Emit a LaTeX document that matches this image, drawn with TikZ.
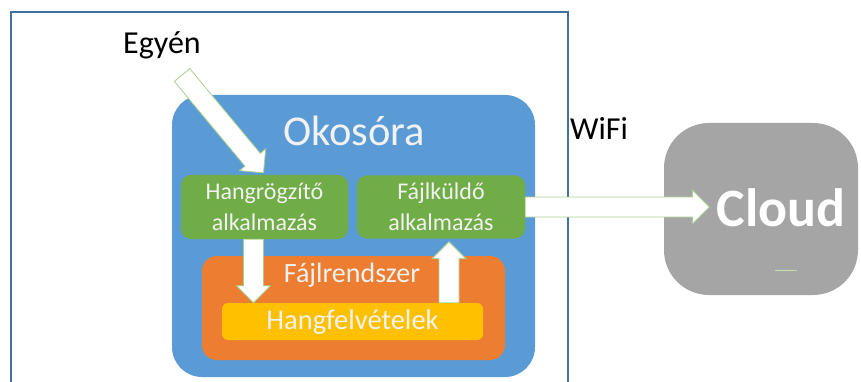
\documentclass[tikz,border=0pt]{standalone}
\usepackage{fontspec}
\setmainfont{Carlito}
\usetikzlibrary{calc}
\definecolor{frameblue}{HTML}{41719C}
\definecolor{okblue}{HTML}{5B9BD5}
\definecolor{okgreen}{HTML}{70AD47}
\definecolor{okorange}{HTML}{ED7D31}
\definecolor{okyellow}{HTML}{FFC000}
\definecolor{okgray}{HTML}{A5A5A5}
\definecolor{arrline}{HTML}{A9D18E}
\definecolor{wtext}{HTML}{F2F2F2}
\tikzset{
  box/.style={draw=none, rectangle, inner sep=0pt},
  lbl/.style={inner sep=0pt, text=wtext, align=center},
  barrow/.style={fill=white, draw=arrline, line width=0.8pt, line join=miter},
}
\newcommand\blockarrow[2]{%
  \coordinate (bh) at ($(#2)!17pt!(#1)$);
  \draw[barrow] ($(#1)!10pt!90:(#2)$) -- ($(bh)!10pt!90:(#2)$) -- ($(bh)!17pt!90:(#2)$) -- (#2)
    -- ($(bh)!17pt!-90:(#2)$) -- ($(bh)!10pt!-90:(#2)$) -- ($(#1)!10pt!-90:(#2)$) -- cycle;}
\begin{document}
\begin{tikzpicture}[x=1pt,y=-1pt]
\useasboundingbox[fill=white] (0,0) rectangle (861,382);
% frame
\draw[frameblue, line width=2pt] (11,382) -- (11,12) -- (568,12) -- (568,382);
% boxes
\node[box, fill=okblue, rounded corners=30pt, minimum width=363pt, minimum height=282pt] (okos) at (353.5,236) {};
\node[lbl, font=\fontsize{42.5}{46}\selectfont] (okostxt) at (354,131) {Okosóra};
\node[box, fill=okgreen, rounded corners=10pt, minimum width=167pt, minimum height=64pt] (hang) at (264.5,207) {};
\node[lbl, font=\fontsize{24}{30.5}\selectfont] (hangtxt) at (hang) {Hangrögzítő\\alkalmazás};
\node[box, fill=okgreen, rounded corners=10pt, minimum width=168pt, minimum height=63pt] (fajl) at (441,207) {};
\node[lbl, font=\fontsize{24}{30.5}\selectfont] (fajltxt) at (fajl) {Fájlküldő\\alkalmazás};
\node[box, fill=okorange, rounded corners=15pt, minimum width=303pt, minimum height=104pt] (fs) at (353.5,308) {};
\node[lbl, font=\fontsize{28}{32}\selectfont] (fstxt) at (352,275) {Fájlrendszer};
\node[box, fill=okyellow, rounded corners=6pt, minimum width=261pt, minimum height=37pt] (yel) at (352.5,321.5) {};
\node[lbl, font=\fontsize{28.5}{32}\selectfont] (yeltxt) at (352.5,322) {Hangfelvételek};
% cloud
\node[box, fill=okgray, rounded corners=45pt, minimum width=194pt, minimum height=172pt] (cloud) at (761,209) {};
\node[lbl, text=white, font=\bfseries\fontsize{54}{58}\selectfont] (cloudtxt) at (781,208) {Cloud};
\draw[arrline!70, line width=0.8pt] (775,270) -- (797,270);
% labels
\node[inner sep=0pt, font=\fontsize{32}{36}\selectfont] (egyen) at (162,45) {Egyén};
\node[inner sep=0pt, font=\fontsize{32}{36}\selectfont] (wifi) at (599,128) {WiFi};
% arrows
\coordinate (a1s) at ($(egyen)+(20,30)$);
\coordinate (a1e) at ($(hang.north)+(-1,-2)$);
\blockarrow{a1s}{a1e}
\coordinate (a2s) at ($(hang.south)+(-11,0)$);
\coordinate (a2e) at (a2s |- yel.north);
\blockarrow{a2s}{a2e}
\coordinate (a3s) at ($(yel.north)+(96.5,0)$);
\coordinate (a3e) at ($(a3s |- fajl.south)+(0,3)$);
\blockarrow{a3s}{a3e}
\coordinate (a4s) at (fajl.east);
\coordinate (a4e) at ($(a4s -| cloudtxt.west)+(-7,0)$);
\blockarrow{a4s}{a4e}
\end{tikzpicture}
\end{document}
